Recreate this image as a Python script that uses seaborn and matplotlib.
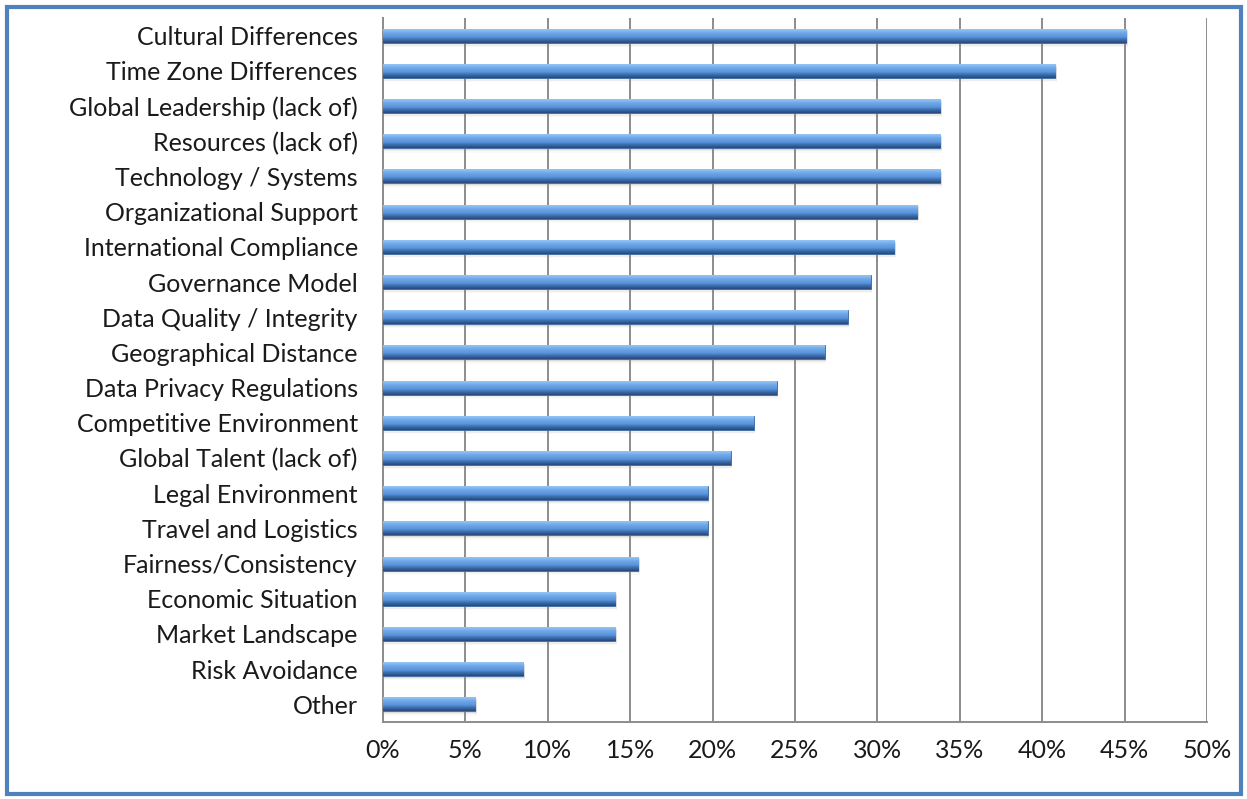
import numpy as np
import pandas as pd
import matplotlib
matplotlib.use("Agg")
import matplotlib.pyplot as plt
import seaborn as sns
from matplotlib.patches import Rectangle
from matplotlib.colors import LinearSegmentedColormap
from matplotlib.ticker import FuncFormatter

categories = [
    "Cultural Differences", "Time Zone Differences", "Global Leadership (lack of)",
    "Resources (lack of)", "Technology / Systems", "Organizational Support",
    "International Compliance", "Governance Model", "Data Quality / Integrity",
    "Geographical Distance", "Data Privacy Regulations", "Competitive Environment",
    "Global Talent (lack of)", "Legal Environment", "Travel and Logistics",
    "Fairness/Consistency", "Economic Situation", "Market Landscape",
    "Risk Avoidance", "Other",
]
values = [45.1, 40.8, 33.8, 33.8, 33.8, 32.4, 31.0, 29.6, 28.2, 26.8,
          23.9, 22.5, 21.1, 19.7, 19.7, 15.5, 14.1, 14.1, 8.5, 5.6]
x_ticks = [0, 5, 10, 15, 20, 25, 30, 35, 40, 45, 50]

df = pd.DataFrame({"category": categories, "pct": values})

sns.set_style("white")
plt.rcParams["font.family"] = ["Lato", "DejaVu Sans"]

fig = plt.figure(figsize=(12.47, 7.99), dpi=100)
ax = fig.add_axes([0.307, 0.0964, 0.661, 0.881])

sns.barplot(data=df, x="pct", y="category", orient="h", width=0.4,
            color="#4F81BD", ax=ax, zorder=3)

# cylinder-like gradient inside each bar: light on top, dark at the bottom
grad = LinearSegmentedColormap.from_list(
    "bar", [(0.0, "#9FCBF6"), (0.2, "#82B7EF"), (0.35, "#6CA5E7"),
            (0.6, "#5A93DA"), (0.75, "#3F72B4"), (1.0, "#27497A")])
ramp = np.linspace(0, 1, 64).reshape(-1, 1)
for p in ax.patches:
    x0, y0 = p.get_x(), p.get_y()
    w, h = p.get_width(), p.get_height()
    # soft shadow under the bar
    for k, a in [(0.10, 0.18), (0.20, 0.10), (0.30, 0.05)]:
        ax.add_patch(Rectangle((x0 + 0.1, y0 + h * k), w, h, facecolor="#8A8A8A",
                               alpha=a, edgecolor="none", zorder=2))
    im = ax.imshow(ramp, cmap=grad, aspect="auto", origin="upper",
                   extent=(x0, x0 + w, y0 + h, y0), zorder=4)
    im.set_clip_path(p)
    p.set_edgecolor("#3A6AA6")
    p.set_linewidth(0.6)

ax.set_xlim(0, 50)
ax.set_ylim(len(categories) - 0.5, -0.5)
ax.set_xlabel("")
ax.set_ylabel("")
ax.set_xticks(x_ticks)
ax.xaxis.set_major_formatter(FuncFormatter(lambda v, _: f"{v:.0f}%"))
ax.grid(axis="x", color="#8C8C8C", linewidth=1.4, zorder=0)
ax.set_axisbelow(True)

for side in ["top", "right"]:
    ax.spines[side].set_visible(False)
for side in ["left", "bottom"]:
    ax.spines[side].set_color("#8C8C8C")
    ax.spines[side].set_linewidth(1.4)

ax.tick_params(axis="x", direction="out", length=8, width=1.4, color="#8C8C8C",
               labelsize=18, labelcolor="#1A1A1A", pad=4)
ax.tick_params(axis="y", which="major", length=0, labelsize=18,
               labelcolor="#1A1A1A", pad=18)
ax.set_yticks(np.arange(-0.5, len(categories), 1), minor=True)
ax.tick_params(axis="y", which="minor", direction="out", length=6, width=1.4,
               color="#8C8C8C")

# blue frame around the chart area
fig.patches.append(Rectangle((0.006, 0.006), 0.989, 0.985, transform=fig.transFigure,
                             fill=False, edgecolor="#4F81BD", linewidth=3))

fig.savefig("out.png", dpi=100)
